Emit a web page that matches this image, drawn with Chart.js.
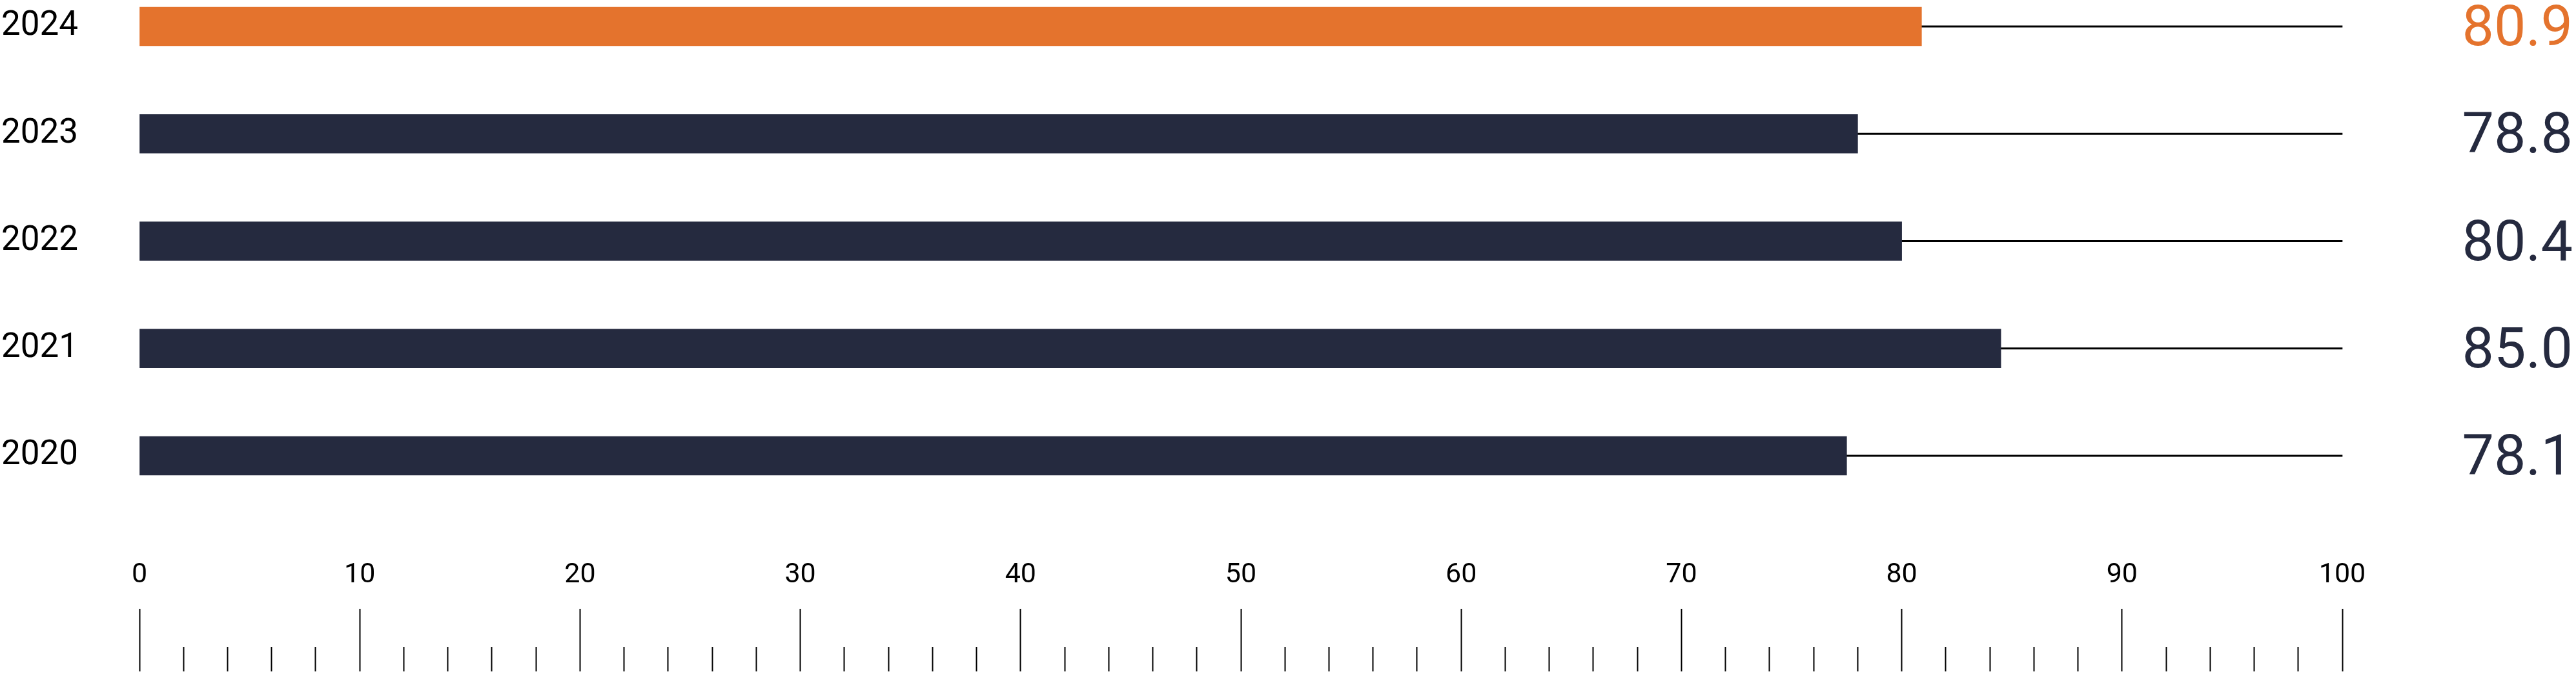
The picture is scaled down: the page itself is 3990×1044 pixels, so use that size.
<!DOCTYPE html>
<html>
<head>
<meta charset="utf-8">
<script src="https://cdn.jsdelivr.net/npm/chart.js@4.4.1/dist/chart.umd.min.js"></script>
<style>
  html, body { margin: 0; padding: 0; background: #fff; }
  canvas { display: block; }
</style>
</head>
<body>
<canvas id="scoreChart" width="3990" height="1044"></canvas>
<script>
// data
const years = ['2024', '2023', '2022', '2021', '2020'];
// printed numbers on the right
const printedScores = [80.9, 78.8, 80.4, 85.0, 78.1];
// where the bars actually end in the picture (a bit short of the printed numbers)
const barLengths = [80.9, 78.0, 80.0, 84.5, 77.5];
const axisMin = 0;
const axisMax = 100;

const orange = '#e4732d';
const navy = '#252a3f';
const fontFamily = 'Roboto, "Open Sans", sans-serif';

const barColors = years.map((y, i) => (i === 0 ? orange : navy));
const scoreLabels = printedScores.map((v) => v.toFixed(1));

function renderScoreChart() {
  const ctx = document.getElementById('scoreChart');
  new Chart(ctx, {
    type: 'bar',
    data: {
      labels: years,
      datasets: [
        {
          data: barLengths,
          backgroundColor: barColors,
          barThickness: 60,
          clip: false
        },
        {
          // thin rail from the end of each bar out to 100
          data: barLengths.map((v) => [v, axisMax]),
          backgroundColor: '#000',
          barThickness: 2.5,
          clip: false
        }
      ]
    },
    options: {
      indexAxis: 'y',
      responsive: false,
      animation: false,
      devicePixelRatio: 1,
      datasets: { bar: { grouped: false } },
      layout: { padding: { top: 41, left: 2, right: 5, bottom: 0 } },
      plugins: { legend: { display: false }, tooltip: { enabled: false } },
      scales: {
        y: {
          type: 'category',
          position: 'left',
          offset: false,
          grid: { display: false },
          border: { display: false },
          ticks: {
            crossAlign: 'far',
            padding: 0,
            color: '#000',
            font: { family: fontFamily, size: 53 }
          },
          afterFit: (scale) => { scale.width = 214; }
        },
        y2: {
          type: 'category',
          position: 'right',
          labels: scoreLabels,
          offset: false,
          grid: { display: false },
          border: { display: false },
          ticks: {
            crossAlign: 'far',
            padding: 0,
            labelOffset: 7,
            color: (c) => (c.index === 0 ? orange : navy),
            font: { family: fontFamily, size: 88, lineHeight: 0.8 }
          },
          afterFit: (scale) => { scale.width = 357; }
        },
        x: {
          type: 'linear',
          position: 'bottom',
          min: axisMin,
          max: axisMax,
          border: { display: false },
          grid: {
            drawOnChartArea: false,
            tickLength: 334,
            tickWidth: 2,
            tickColor: '#000',
            // long mark every 10, short mark every 2
            tickBorderDash: (c) => (Math.round(c.tick.value) % 10 === 0 ? [0, 237, 97] : [0, 296, 38])
          },
          ticks: {
            stepSize: 2,
            autoSkip: false,
            maxRotation: 0,
            minRotation: 0,
            padding: -175,
            color: '#000',
            font: { family: fontFamily, size: 43 },
            callback: (value) => (Math.round(value) % 10 === 0 ? value : '')
          },
          afterFit: (scale) => { scale.height = 338; }
        }
      }
    }
  });
}

renderScoreChart();
</script>
</body>
</html>
